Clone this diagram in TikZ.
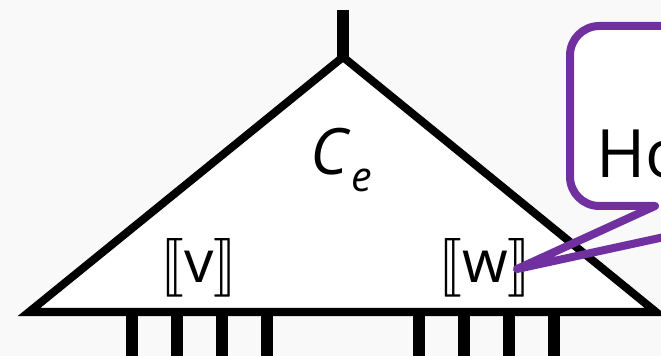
\documentclass[tikz,border=0pt]{standalone}
\usepackage{fontspec}
\setmainfont{Open Sans}
\usepackage{stmaryrd}
\DeclareFontFamily{U}{stmry}{}
\DeclareFontShape{U}{stmry}{m}{n}{<-> stmary10}{}
\usetikzlibrary{positioning, calc}
\definecolor{bggray}{HTML}{F9F9F9}
\definecolor{notepurple}{HTML}{7030A0}
\tikzset{
    tri/.style={draw=black, line width=6pt, fill=white, line join=miter},
    stem/.style={line width=9pt},
    leg/.style={line width=9pt},
    semlabel/.style={font=\fontsize{44}{50}\selectfont, inner sep=0pt},
    note/.style={draw=notepurple, line width=6pt, line join=round},
    notetext/.style={font=\fontsize{50}{56}\selectfont, inner sep=0pt, anchor=base west}
}

\begin{document}
\begin{tikzpicture}[x=0.75pt, y=-0.75pt]
        \fill[bggray] (0,0) rectangle (661,356);
        \useasboundingbox (0,0) rectangle (661,356);
        \clip (0,0) rectangle (661,356);
        \coordinate (apex) at (343,57);
        \coordinate (top) at (343,10);
        \coordinate (leftc) at (29,312);
        \coordinate (rightc) at (656,312);
        \draw[stem] (top) -- (apex);
        \foreach \x in {132,177,222,267,419,464,509,554}
            \draw[leg] (\x,312) -- (\x,362);
        \draw[tri] (apex) -- (leftc) -- (rightc) -- cycle;
        \node[semlabel, anchor=base west, font=\fontsize{48}{54}\selectfont] (cnode) at (310,175) {\textit{C}};
        \node[semlabel, anchor=base west, font=\fontsize{31}{34}\selectfont] (enode) at (351,192) {\textit{e}};
        \node[semlabel] (vnode) at (199,268) {$\llbracket$v$\rrbracket$};
        \node[semlabel] (wnode) at (485,268) {$\llbracket$w$\rrbracket$};
        \coordinate (tip) at (517,269);
        \fill[white, rounded corners=22pt] (570,26) rectangle (960,206);
        \draw[note] (tip) -- (655,206) {[rounded corners=22pt] -- (570,206) -- (570,26) -- (960,26) -- (960,206)} -- (807,206) -- cycle;
        \node[notetext] (hotext) at (596,178) {Ho};
\end{tikzpicture}
\end{document}
